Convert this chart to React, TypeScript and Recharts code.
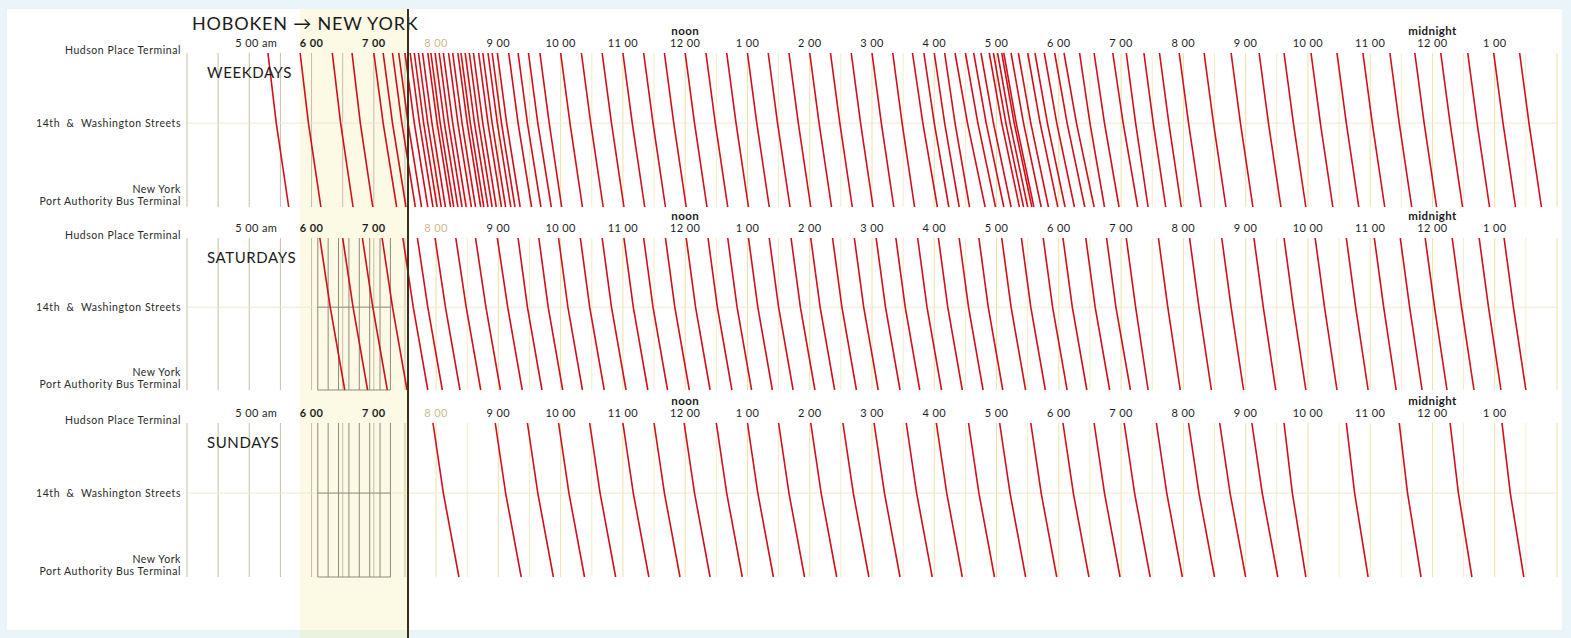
import React from 'react';
import { LineChart, Line, XAxis, YAxis, ReferenceLine } from 'recharts';

// stations, top to bottom of each panel (relative distance along the route)
const stationNames = [['Hudson Place Terminal'], ['14th  &  Washington Streets'], ['New York', 'Port Authority Bus Terminal']];
const stationStops = [0, 0.455, 1];

// hour ticks, 4 am .. 2 am next day (hours > 24 are after midnight)
const hourTicks = [5, 6, 7, 8, 9, 10, 11, 12, 13, 14, 15, 16, 17, 18, 19, 20, 21, 22, 23, 24, 25];
const hourLabels = ['5 00 am', '6 00', '7 00', '8 00', '9 00', '10 00', '11 00', '12 00', '1 00', '2 00', '3 00', '4 00', '5 00', '6 00', '7 00', '8 00', '9 00', '10 00', '11 00', '12 00', '1 00'];

// departures from Hudson Place Terminal
const weekdayDepartures = ['5:18', '5:49', '6:20', '6:39', '7:00', '7:09', '7:18', '7:24', '7:30', '7:35', '7:39', '7:43', '7:47', '7:52', '7:55', '7:59', '8:03', '8:07', '8:12', '8:16', '8:21', '8:24', '8:28', '8:32', '8:36', '8:41', '8:45', '8:50', '8:54', '8:59', '9:10', '9:19', '9:29', '9:40', '10:00', '10:20', '10:40', '11:00', '11:20', '11:40', '12:00', '12:20', '12:40', '13:00', '13:20', '13:40', '14:00', '14:20', '14:40', '15:00', '15:20', '15:39', '15:50', '16:00', '16:10', '16:20', '16:30', '16:38', '16:45', '16:53', '16:57', '17:01', '17:05', '17:07', '17:14', '17:21', '17:30', '17:37', '17:46', '17:56', '18:05', '18:20', '18:34', '18:52', '19:05', '19:22', '19:37', '19:56', '20:20', '20:46', '21:13', '21:37', '22:03', '22:28', '22:53', '23:19', '23:43', '24:08', '24:34', '24:59', '25:24'];
const saturdayDepartures = ['6:08', '6:30', '6:49', '7:08', '7:28', '7:42', '7:59', '8:19', '8:38', '8:59', '9:19', '9:39', '9:58', '10:19', '10:40', '11:01', '11:20', '11:41', '12:01', '12:22', '12:41', '13:01', '13:21', '13:42', '14:01', '14:22', '14:43', '15:04', '15:23', '15:44', '16:04', '16:24', '16:43', '17:05', '17:24', '17:45', '18:04', '18:26', '18:46', '19:05', '19:36', '20:06', '20:37', '21:08', '21:37', '22:07', '22:37', '23:04', '23:29', '23:53', '24:19', '24:45', '25:09'];
const sundayDepartures = ['7:57', '8:57', '9:28', '9:58', '10:28', '11:00', '11:30', '11:59', '12:30', '13:00', '13:30', '14:01', '14:32', '15:02', '15:33', '16:02', '16:33', '17:03', '17:33', '18:04', '18:34', '19:03', '19:34', '20:05', '20:35', '21:06', '21:37', '22:37', '23:28', '24:17', '25:07'];

// running times: [from departure time, minutes to 14th St, minutes to Port Authority]
const weekdayRuns: [string, number, number][] = [['4:00', 8, 20], ['7:00', 9, 22], ['9:30', 9, 21], ['15:30', 10, 24], ['16:15', 12, 29], ['18:15', 10, 24], ['19:00', 9, 21]];
const saturdayRuns: [string, number, number][] = [['4:00', 10, 24], ['9:00', 9, 23], ['19:00', 9, 21]];
const sundayRuns: [string, number, number][] = [['4:00', 10, 25], ['21:30', 8, 21]];

const FONT = 'Lato, "Open Sans", sans-serif';
const RED = '#d0101a';

const toHours = (s: string) => {
	const [h, m] = s.split(':').map(Number);
	return h + m / 60;
};

function buildTrips(deps: string[], runs: [string, number, number][]) {
	const pts: { t: number; y: number | null }[] = [];
	deps.forEach((d) => {
		const t = toHours(d);
		const run = runs.filter((r) => toHours(r[0]) <= t).pop()!;
		pts.push({ t, y: stationStops[0] });
		pts.push({ t: t + run[1] / 60, y: stationStops[1] });
		pts.push({ t: t + run[2] / 60, y: stationStops[2] });
		pts.push({ t: t + run[2] / 60, y: null });
	});
	return pts;
}

function HourTick(props: any) {
	const { x, y, payload } = props;
	const v = payload.value;
	const label = hourLabels[hourTicks.indexOf(v)];
	const over = v === 12 ? 'noon' : v === 24 ? 'midnight' : null;
	return (
		<g fontFamily={FONT}>
			{over && (
				<text x={x} y={y - 18} textAnchor="middle" fontSize={11.5} fontWeight={700} letterSpacing={0.4} fill="#1a1a1a">
					{over}
				</text>
			)}
			<text
				x={v === 5 ? x + 7 : x}
				y={y - 6}
				textAnchor="middle"
				fontSize={11}
				letterSpacing={0.4}
				fontWeight={v === 6 || v === 7 ? 700 : 400}
				fill={v === 8 ? '#cdb98a' : '#1e1e1e'}
			>
				{label}
			</text>
		</g>
	);
}

function StationTick(props: any) {
	const { x, y, payload } = props;
	const i = stationStops.indexOf(payload.value);
	const lines = stationNames[i] || [];
	const offs = i === 0 ? [-3] : i === 1 ? [0] : [-18, -6];
	return (
		<g fontFamily={FONT}>
			{lines.map((l, k) => (
				<text
					key={k}
					x={x - 6}
					y={y + offs[k]}
					dy="0.35em"
					textAnchor="end"
					fontSize={10.5}
					letterSpacing={0.55}
					fill="#2a2a2a"
					style={{ whiteSpace: 'pre' }}
				>
					{l}
				</text>
			))}
		</g>
	);
}

const halfHours: number[] = [];
for (let h = 4; h <= 26; h += 0.5) halfHours.push(h);
const fineGrid: number[] = [];
for (let m = 0; m <= 70; m += 10) fineGrid.push(6.1 + m / 60);

interface PanelProps {
	title: string;
	departures: string[];
	runs: [string, number, number][];
	top: number;
	plotHeight: number;
	fine: boolean;
}

function Panel({ title, departures, runs, top, plotHeight, fine }: PanelProps) {
	const data = buildTrips(departures, runs);
	return (
		<>
			<div style={{ position: 'absolute', left: 0, top: top - 40 }}>
				<LineChart width={1571} height={40 + plotHeight + 10} data={data} margin={{ top: 10, right: 14, bottom: 10, left: 7 }}>
					<XAxis
						type="number"
						dataKey="t"
						domain={[4, 26]}
						ticks={hourTicks}
						interval={0}
						orientation="top"
						height={30}
						tickSize={0}
						tickMargin={0}
						axisLine={false}
						tickLine={false}
						tick={<HourTick />}
						allowDataOverflow
					/>
					<YAxis
						type="number"
						domain={[0, 1]}
						reversed
						ticks={stationStops}
						interval={0}
						width={180}
						tickSize={0}
						tickMargin={0}
						axisLine={false}
						tickLine={false}
						tick={<StationTick />}
					/>
					{halfHours.map((h) => (
						<ReferenceLine
							key={'g' + h}
							x={h}
							stroke={h < 7.6 ? '#c4c0a6' : h % 1 === 0 ? '#ece2a4' : '#f3edc6'}
							strokeWidth={1}
						/>
					))}
					<ReferenceLine y={stationStops[1]} stroke="#efe9cc" strokeWidth={1} />
					{fine &&
						fineGrid.map((h) => <ReferenceLine key={'f' + h} x={h} stroke="#8e8c7a" strokeWidth={1} />)}
					{fine && (
						<ReferenceLine
							segment={[
								{ x: fineGrid[0], y: stationStops[1] },
								{ x: fineGrid[fineGrid.length - 1], y: stationStops[1] },
							]}
							stroke="#8e8c7a"
						/>
					)}
					{fine && (
						<ReferenceLine
							segment={[
								{ x: fineGrid[0], y: 1 },
								{ x: fineGrid[fineGrid.length - 1], y: 1 },
							]}
							stroke="#8e8c7a"
						/>
					)}
					<Line
						type="linear"
						dataKey="y"
						stroke={RED}
						strokeWidth={1.6}
						dot={false}
						activeDot={false}
						connectNulls={false}
						isAnimationActive={false}
					/>
				</LineChart>
			</div>
			<div
				style={{
					position: 'absolute',
					left: 207,
					top: top + 10,
					fontFamily: FONT,
					fontSize: 15,
					letterSpacing: 0.6,
					color: '#1c1c1c',
				}}
			>
				{title}
			</div>
		</>
	);
}

export default function App() {
	return (
		<div style={{ position: 'relative', width: 1571, height: 638, background: '#e9f5f8', overflow: 'hidden', fontFamily: FONT }}>
			<style>{'body{margin:0}'}</style>
			<div style={{ position: 'absolute', left: 7, top: 9, width: 1555, height: 621, background: '#ffffff' }} />
			<div style={{ position: 'absolute', left: 300, top: 9, width: 108, height: 629, background: 'rgba(246, 236, 170, 0.3)' }} />
			<div
				style={{
					position: 'absolute',
					left: 192,
					top: 12,
					fontFamily: FONT,
					fontSize: 18,
					letterSpacing: 0.8,
					color: '#1c1c1c',
					whiteSpace: 'nowrap',
				}}
			>
				HOBOKEN → NEW YORK
			</div>
			<Panel title="WEEKDAYS" departures={weekdayDepartures} runs={weekdayRuns} top={53} plotHeight={154} fine={false} />
			<Panel title="SATURDAYS" departures={saturdayDepartures} runs={saturdayRuns} top={238} plotHeight={152} fine />
			<Panel title="SUNDAYS" departures={sundayDepartures} runs={sundayRuns} top={423} plotHeight={154} fine />
			<div style={{ position: 'absolute', left: 407, top: 9, width: 2, height: 629, background: '#3a3018' }} />
		</div>
	);
}
